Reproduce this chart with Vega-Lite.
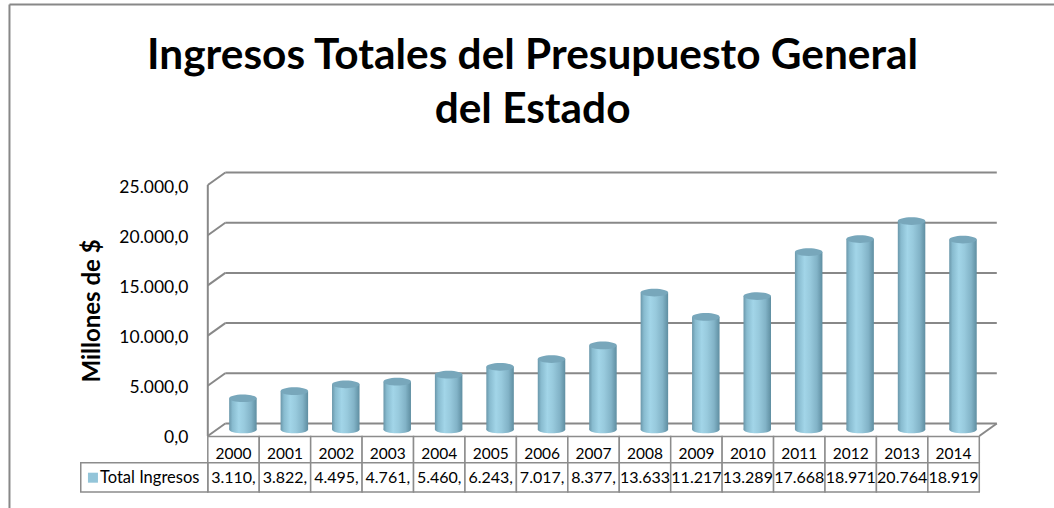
{
  "$schema": "https://vega.github.io/schema/vega-lite/v6.json",
  "width": 771.5,
  "height": 251,
  "autosize": {"type": "none"},
  "padding": {"left": 207.8, "top": 185, "right": 74.5, "bottom": 72},
  "background": "white",
  "config": {"view": {"stroke": null}},
  "title": {
    "text": ["Ingresos Totales del Presupuesto General", "del Estado"],
    "font": "Lato",
    "fontSize": 42.4,
    "fontWeight": "bold",
    "color": "#000000",
    "anchor": "middle",
    "frame": "group",
    "dx": -61,
    "dy": 129,
    "offset": 0,
    "lineHeight": 54
  },
  "datasets": {
    "ingresos": [
      {"anio": 2000, "valor": 3110, "etiqueta": "3.110,"},
      {"anio": 2001, "valor": 3822, "etiqueta": "3.822,"},
      {"anio": 2002, "valor": 4495, "etiqueta": "4.495,"},
      {"anio": 2003, "valor": 4761, "etiqueta": "4.761,"},
      {"anio": 2004, "valor": 5460, "etiqueta": "5.460,"},
      {"anio": 2005, "valor": 6243, "etiqueta": "6.243,"},
      {"anio": 2006, "valor": 7017, "etiqueta": "7.017,"},
      {"anio": 2007, "valor": 8377, "etiqueta": "8.377,"},
      {"anio": 2008, "valor": 13633, "etiqueta": "13.633"},
      {"anio": 2009, "valor": 11217, "etiqueta": "11.217"},
      {"anio": 2010, "valor": 13289, "etiqueta": "13.289"},
      {"anio": 2011, "valor": 17668, "etiqueta": "17.668"},
      {"anio": 2012, "valor": 18971, "etiqueta": "18.971"},
      {"anio": 2013, "valor": 20764, "etiqueta": "20.764"},
      {"anio": 2014, "valor": 18919, "etiqueta": "18.919"}
    ],
    "grid": [{"v": 0}, {"v": 5000}, {"v": 10000}, {"v": 15000}, {"v": 20000}, {"v": 25000}]
  },
  "layer": [
    {
      "data": {"name": "grid"},
      "mark": {"type": "rule", "color": "#888888", "strokeWidth": 2, "xOffset": 17.5, "x2Offset": 17.5, "yOffset": -12.5},
      "encoding": {
        "x": {"datum": 1999.5, "type": "quantitative", "scale": {"domain": [1999.5, 2014.5], "nice": false, "zero": false, "padding": 0}, "axis": null},
        "x2": {"datum": 2014.5},
        "y": {
          "field": "v",
          "type": "quantitative",
          "title": "Millones de $",
          "scale": {"domain": [0, 25000], "nice": false, "zero": false, "padding": 0},
          "axis": {
            "values": [0, 5000, 10000, 15000, 20000, 25000],
            "labelExpr": "datum.value == 0 ? '0,0' : format(datum.value / 1000, '.3f') + ',0'",
            "domain": false,
            "ticks": false,
            "grid": false,
            "labelFont": "Lato",
            "labelFontSize": 17.5,
            "labelColor": "#000000",
            "labelPadding": 20,
            "labelOffset": 2,
            "titleFont": "Lato",
            "titleFontSize": 24,
            "titleFontWeight": "bold",
            "titleColor": "#000000",
            "titlePadding": 14
          }
        }
      }
    },
    {
      "data": {"name": "grid"},
      "mark": {"type": "rule", "color": "#888888", "strokeWidth": 2, "x2Offset": 17.5, "y2Offset": -12.5},
      "encoding": {
        "x": {"datum": 1999.5, "type": "quantitative", "axis": null},
        "x2": {"datum": 1999.5},
        "y": {"field": "v", "type": "quantitative"},
        "y2": {"field": "v"}
      }
    },
    {
      "data": {"values": [{}]},
      "mark": {"type": "rule", "color": "#888888", "strokeWidth": 2},
      "encoding": {
        "x": {"datum": 1999.5, "type": "quantitative", "axis": null},
        "y": {"datum": 0, "type": "quantitative"},
        "y2": {"datum": 25000}
      }
    },
    {
      "data": {"values": [{}]},
      "mark": {"type": "rule", "color": "#888888", "strokeWidth": 2, "x2Offset": 17.5, "y2Offset": -12.5},
      "encoding": {
        "x": {"datum": 2014.5, "type": "quantitative", "axis": null},
        "x2": {"datum": 2014.5},
        "y": {"datum": 0, "type": "quantitative"},
        "y2": {"datum": 0}
      }
    },
    {
      "data": {"values": [{}]},
      "mark": {"type": "rule", "color": "#888888", "strokeWidth": 2},
      "encoding": {
        "x": {"datum": 1995.644, "type": "quantitative", "axis": null},
        "x2": {"datum": 2016.5},
        "y": {"datum": 42978, "type": "quantitative"}
      }
    },
    {
      "data": {"values": [{}]},
      "mark": {"type": "rule", "color": "#888888", "strokeWidth": 2},
      "encoding": {
        "x": {"datum": 1995.644, "type": "quantitative", "axis": null},
        "y": {"datum": 42978, "type": "quantitative"},
        "y2": {"datum": -7300}
      }
    },
    {
      "data": {"name": "ingresos"},
      "mark": {
        "type": "point",
        "filled": true,
        "opacity": 1,
        "strokeWidth": 0,
        "size": 756,
        "shape": "M -1 0 A 1 0.28 0 1 0 1 0 A 1 0.28 0 1 0 -1 0 Z",
        "xOffset": 9.4,
        "yOffset": -6.5,
        "color": {"gradient": "linear", "x1": 0, "x2": 1, "y1": 0, "y2": 0,
          "stops": [
            {"offset": 0, "color": "#6a97aa"},
            {"offset": 0.12, "color": "#88bbcf"},
            {"offset": 0.35, "color": "#a2d5e8"},
            {"offset": 0.55, "color": "#98cadd"},
            {"offset": 0.8, "color": "#82b3c7"},
            {"offset": 1, "color": "#5f8ea1"}
          ]}
      },
      "encoding": {
        "x": {"field": "anio", "type": "quantitative", "axis": null},
        "y": {"datum": 0, "type": "quantitative"}
      }
    },
    {
      "data": {"name": "ingresos"},
      "mark": {
        "type": "bar",
        "size": 27.5,
        "xOffset": 9.4,
        "yOffset": -6.5,
        "y2Offset": -6.5,
        "color": {"gradient": "linear", "x1": 0, "x2": 1, "y1": 0, "y2": 0,
          "stops": [
            {"offset": 0, "color": "#6a97aa"},
            {"offset": 0.12, "color": "#88bbcf"},
            {"offset": 0.35, "color": "#a2d5e8"},
            {"offset": 0.55, "color": "#98cadd"},
            {"offset": 0.8, "color": "#82b3c7"},
            {"offset": 1, "color": "#5f8ea1"}
          ]}
      },
      "encoding": {
        "x": {"field": "anio", "type": "quantitative", "axis": null},
        "y": {"field": "valor", "type": "quantitative"},
        "y2": {"datum": 0}
      }
    },
    {
      "data": {"name": "ingresos"},
      "mark": {
        "type": "point",
        "filled": true,
        "opacity": 1,
        "strokeWidth": 0,
        "size": 756,
        "shape": "M -1 0 A 1 0.28 0 1 0 1 0 A 1 0.28 0 1 0 -1 0 Z",
        "xOffset": 9.4,
        "yOffset": -6.5,
        "color": "#78a7bb"
      },
      "encoding": {
        "x": {"field": "anio", "type": "quantitative", "axis": null},
        "y": {"field": "valor", "type": "quantitative"}
      }
    },
    {
      "data": {"name": "ingresos"},
      "mark": {"type": "bar", "size": 51.43, "fill": "white", "stroke": "#8c8c8c", "strokeWidth": 1.5},
      "encoding": {
        "x": {"field": "anio", "type": "quantitative", "axis": null},
        "y": {"datum": -60, "type": "quantitative"},
        "y2": {"datum": -2660}
      }
    },
    {
      "data": {"name": "ingresos"},
      "mark": {"type": "bar", "size": 51.43, "fill": "white", "stroke": "#8c8c8c", "strokeWidth": 1.5},
      "encoding": {
        "x": {"field": "anio", "type": "quantitative", "axis": null},
        "y": {"datum": -2660, "type": "quantitative"},
        "y2": {"datum": -5578}
      }
    },
    {
      "data": {"values": [{}]},
      "mark": {"type": "rect", "fill": "white", "stroke": "#8c8c8c", "strokeWidth": 1.5},
      "encoding": {
        "x": {"datum": 1997.03, "type": "quantitative", "axis": null},
        "x2": {"datum": 1999.5},
        "y": {"datum": -2660, "type": "quantitative"},
        "y2": {"datum": -5578}
      }
    },
    {
      "data": {"values": [{}]},
      "mark": {"type": "point", "shape": "square", "filled": true, "opacity": 1, "size": 100, "color": "#93c5d9", "strokeWidth": 0},
      "encoding": {
        "x": {"datum": 1997.267, "type": "quantitative", "axis": null},
        "y": {"datum": -4153, "type": "quantitative"}
      }
    },
    {
      "data": {"values": [{}]},
      "mark": {"type": "text", "align": "left", "baseline": "alphabetic", "font": "Lato", "fontSize": 16.5, "color": "#000000"},
      "encoding": {
        "x": {"datum": 1997.404, "type": "quantitative", "axis": null},
        "y": {"datum": -4711, "type": "quantitative"},
        "text": {"value": "Total Ingresos"}
      }
    },
    {
      "data": {"name": "ingresos"},
      "mark": {"type": "text", "align": "center", "baseline": "alphabetic", "font": "Lato", "fontSize": 15.5, "color": "#000000"},
      "encoding": {
        "x": {"field": "anio", "type": "quantitative", "axis": null},
        "y": {"datum": -2321, "type": "quantitative"},
        "text": {"field": "anio", "type": "nominal"}
      }
    },
    {
      "data": {"name": "ingresos"},
      "mark": {"type": "text", "align": "center", "baseline": "alphabetic", "font": "Lato", "fontSize": 16, "color": "#000000"},
      "encoding": {
        "x": {"field": "anio", "type": "quantitative", "axis": null},
        "y": {"datum": -4711, "type": "quantitative"},
        "text": {"field": "etiqueta", "type": "nominal"}
      }
    }
  ]
}
